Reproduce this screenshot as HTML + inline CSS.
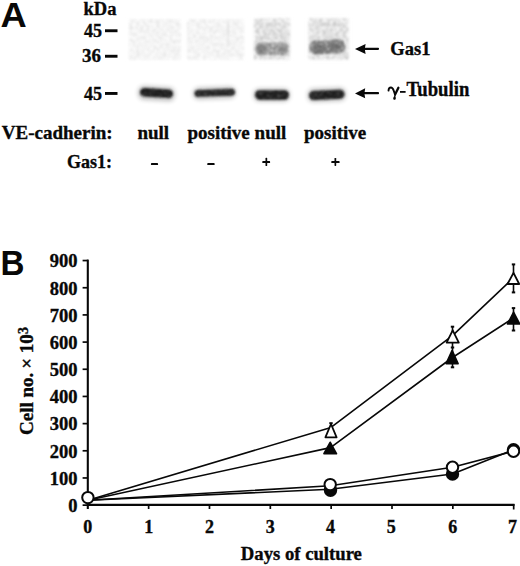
<!DOCTYPE html>
<html><head><meta charset="utf-8">
<style>
html,body{margin:0;padding:0;background:#fff;}
body{width:520px;height:566px;overflow:hidden;}
svg{display:block;}
.s{font-family:"Liberation Serif",serif;font-weight:bold;fill:#080808;stroke:#080808;stroke-width:0.35px;}
.a{font-family:"Liberation Sans",sans-serif;font-weight:bold;fill:#080808;}
</style></head><body>
<svg width="520" height="566" viewBox="0 0 520 566">
<defs>
  <filter id="b1" x="-30%" y="-60%" width="160%" height="220%"><feGaussianBlur stdDeviation="1.25"/></filter>
  <filter id="nz3" x="0" y="0" width="100%" height="100%">
    <feTurbulence type="fractalNoise" baseFrequency="0.4" numOctaves="2" seed="21" result="t"/>
    <feColorMatrix in="t" type="matrix" values="0 0 0 0 0  0 0 0 0 0  0 0 0 0 0  2.5 0 0 0 -1.2" result="m"/>
    <feComposite in="SourceGraphic" in2="m" operator="in" result="c"/>
    <feGaussianBlur in="c" stdDeviation="0.8"/>
  </filter>
  <filter id="b0" x="-200%" y="-20%" width="500%" height="140%"><feGaussianBlur stdDeviation="0.8"/></filter>
  <filter id="b2" x="-30%" y="-60%" width="160%" height="220%"><feGaussianBlur stdDeviation="2.2"/></filter>
  <filter id="b3" x="-30%" y="-60%" width="160%" height="220%"><feGaussianBlur stdDeviation="2"/></filter>
  <filter id="nz" x="-5%" y="-5%" width="110%" height="110%">
    <feTurbulence type="fractalNoise" baseFrequency="0.3" numOctaves="3" seed="7" result="t"/>
    <feColorMatrix in="t" type="matrix" values="0 0 0 0 0  0 0 0 0 0  0 0 0 0 0  2.2 0 0 0 -0.75" result="m"/>
    <feComposite in="SourceGraphic" in2="m" operator="in" result="c"/>
    <feGaussianBlur in="c" stdDeviation="1.1"/>
  </filter>
  <filter id="nz2" x="-20%" y="-30%" width="140%" height="160%">
    <feTurbulence type="fractalNoise" baseFrequency="0.5" numOctaves="2" seed="11" result="t"/>
    <feColorMatrix in="t" type="matrix" values="0 0 0 0 0  0 0 0 0 0  0 0 0 0 0  1.8 0 0 0 -0.3" result="m"/>
    <feComposite in="SourceGraphic" in2="m" operator="in" result="c"/>
    <feGaussianBlur in="c" stdDeviation="1.3"/>
  </filter>
</defs>

<!-- Panel A -->
<text class="a" x="0" y="0" font-size="35.6" transform="translate(0.6,26.6) scale(1.02,1)">A</text>
<text class="s" x="83.5" y="14.6" font-size="18.5">kDa</text>
<text class="s" x="84" y="36.5" font-size="19" textLength="18" lengthAdjust="spacingAndGlyphs">45</text>
<rect x="105" y="29.3" width="12.5" height="2.9" fill="#080808"/>
<text class="s" x="82" y="62" font-size="19" textLength="19" lengthAdjust="spacingAndGlyphs">36</text>
<rect x="105" y="54.8" width="12.5" height="2.9" fill="#080808"/>
<text class="s" x="84" y="99.6" font-size="19" textLength="18" lengthAdjust="spacingAndGlyphs">45</text>
<rect x="105" y="92" width="12.5" height="2.9" fill="#080808"/>

<!-- top blot background lanes -->
<g filter="url(#b3)">
  <rect x="129" y="20" width="52" height="39" fill="#fbfbfb"/>
  <rect x="187" y="20" width="57" height="39" fill="#fbfbfb"/>
  <rect x="255" y="19.5" width="34" height="39" fill="#f2f2f2"/>
  <rect x="309.5" y="19.5" width="38" height="39" fill="#f2f2f2"/>
</g>
<g filter="url(#nz)" opacity="0.8">
  <rect x="129" y="19" width="52" height="41" fill="#e2e2e2"/>
  <rect x="187" y="19" width="57" height="41" fill="#e2e2e2"/>
  <rect x="254" y="18.5" width="36" height="41" fill="#b8b8b8"/>
  <rect x="308.5" y="18.5" width="40" height="41" fill="#b8b8b8"/>
</g>
<rect x="227.5" y="22" width="1.2" height="22" fill="#ddd" filter="url(#b0)"/>
<!-- Gas1 bands -->
<g filter="url(#nz2)">
  <rect x="256" y="42.5" width="32" height="12.5" rx="5" fill="#7a7a7a"/>
  <rect x="309.5" y="40" width="35.5" height="14" rx="6" fill="#626262" transform="rotate(-3 327 47)"/>
</g>
<g filter="url(#b2)" opacity="0.5">
  <ellipse cx="261" cy="49.5" rx="5" ry="4.5" fill="#555"/>
  <ellipse cx="283" cy="49" rx="4.5" ry="3.5" fill="#666"/>
  <ellipse cx="319" cy="48.5" rx="7" ry="4" fill="#444"/>
  <ellipse cx="335" cy="46.5" rx="7" ry="4" fill="#444"/>
</g>
<!-- tubulin bands -->
<g filter="url(#b3)" opacity="0.3">
  <rect x="138" y="86.5" width="37" height="14" rx="6" fill="#333" transform="rotate(3.5 156.5 93.5)"/>
  <rect x="193" y="87" width="43" height="12" rx="6" fill="#333" transform="rotate(-2 214.5 93)"/>
  <rect x="253.5" y="88.5" width="36.5" height="13" rx="6" fill="#333"/>
  <rect x="307.5" y="88" width="38.5" height="13.5" rx="6" fill="#333" transform="rotate(-2.5 326.5 95)"/>
</g>
<g filter="url(#b1)">
  <rect x="140" y="88.8" width="33" height="8.4" rx="4.2" fill="#1c1c1c" transform="rotate(3.5 156.5 93)"/>
  <rect x="194.5" y="89.3" width="40.5" height="7" rx="3.5" fill="#222" transform="rotate(-2 214.5 92.8)"/>
  <rect x="255" y="90.2" width="34" height="9.6" rx="4.8" fill="#1c1c1c"/>
  <rect x="309" y="90.4" width="35.5" height="9" rx="4.5" fill="#1c1c1c" transform="rotate(-2.5 326.5 94.9)"/>
</g>
<g filter="url(#nz3)" opacity="0.35">
  <rect x="138" y="87" width="38" height="13" fill="#fff"/>
  <rect x="193" y="87.5" width="43" height="11" fill="#fff"/>
  <rect x="253" y="88.5" width="37" height="13" fill="#fff"/>
  <rect x="307.5" y="88.5" width="38.5" height="12.5" fill="#fff"/>
</g>

<!-- arrows -->
<g fill="#080808">
  <rect x="363" y="47.7" width="16" height="2.2" rx="0.8"/>
  <polygon points="355,49 365.6,44 364.8,49 365.6,54"/>
  <rect x="363" y="92.1" width="16" height="2.2" rx="0.8"/>
  <polygon points="355,93.4 365.2,88.2 364.4,93.4 365.2,98.2"/>
</g>
<text class="s" x="390.3" y="54.6" font-size="18.5">Gas1</text>
<g fill="none" stroke="#080808" stroke-linecap="round">
  <path d="M388.5,90.6 C388.6,88.6 389.7,87.5 390.9,87.5 C392.3,87.5 393.1,88.9 393.7,90.6 L395.1,94.6" stroke-width="1.85"/>
  <path d="M398.4,87.8 L395.1,94.6" stroke-width="2.3"/>
</g>
<path d="M395.1,94.4 C394.7,95.8 393.2,97 393.2,98.3 C393.2,99.3 393.8,99.8 394.5,99.8 C395.2,99.8 395.8,99.3 395.8,98.3 C395.8,97 395.1,96 395.7,94.6 Z" fill="#080808"/>
<rect x="400" y="91" width="5.6" height="1.8" fill="#080808"/>
<text class="s" x="406.5" y="96.4" font-size="19.9" textLength="62.8" lengthAdjust="spacingAndGlyphs">Tubulin</text>

<text class="s" x="1.8" y="138.8" font-size="19">VE-cadherin:</text>
<text class="s" x="137.4" y="138.8" font-size="19">null</text>
<text class="s" x="187.5" y="138.8" font-size="19">positive</text>
<text class="s" x="254.6" y="138.8" font-size="19">null</text>
<text class="s" x="304" y="138.8" font-size="19">positive</text>
<text class="s" x="66.9" y="167.6" font-size="19" textLength="45" lengthAdjust="spacingAndGlyphs">Gas1:</text>
<g fill="#080808">
  <rect x="150.9" y="163" width="7.2" height="2.1" rx="0.9"/>
  <rect x="207.2" y="163" width="7.5" height="2.1" rx="0.9"/>
  <rect x="262.3" y="161.1" width="7.8" height="1.9" rx="0.6"/>
  <rect x="265.5" y="157.8" width="1.7" height="8.3" rx="0.6"/>
  <rect x="331.3" y="161.1" width="8.3" height="1.9" rx="0.6"/>
  <rect x="334.5" y="158" width="1.7" height="7.9" rx="0.6"/>
</g>

<!-- Panel B -->
<text class="a" x="0" y="0" font-size="35" transform="translate(0.5,274.8) scale(0.95,1)">B</text>

<!-- axes -->
<g stroke="#080808" stroke-width="2.1" fill="none">
  <line x1="87.8" y1="259.6" x2="87.8" y2="509"/>
  <line x1="86.8" y1="504.9" x2="514.5" y2="504.9"/>
</g>
<g stroke="#080808" stroke-width="1.7" fill="none">
  <line x1="82.6" y1="505.14" x2="88" y2="505.14"/>
  <line x1="82.6" y1="477.96" x2="88" y2="477.96"/>
  <line x1="82.6" y1="450.79" x2="88" y2="450.79"/>
  <line x1="82.6" y1="423.62" x2="88" y2="423.62"/>
  <line x1="82.6" y1="396.44" x2="88" y2="396.44"/>
  <line x1="82.6" y1="369.26" x2="88" y2="369.26"/>
  <line x1="82.6" y1="342.09" x2="88" y2="342.09"/>
  <line x1="82.6" y1="314.91" x2="88" y2="314.91"/>
  <line x1="82.6" y1="287.74" x2="88" y2="287.74"/>
  <line x1="82.6" y1="260.56" x2="88" y2="260.56"/>
  <line x1="148.64" y1="505" x2="148.64" y2="509"/>
  <line x1="209.48" y1="505" x2="209.48" y2="509"/>
  <line x1="270.32" y1="505" x2="270.32" y2="509"/>
  <line x1="331.16" y1="505" x2="331.16" y2="509"/>
  <line x1="392.00" y1="505" x2="392.00" y2="509"/>
  <line x1="452.84" y1="505" x2="452.84" y2="509"/>
  <line x1="513.68" y1="504" x2="513.68" y2="509.5"/>
</g>
<g class="s" font-size="18.5" text-anchor="end">
  <text x="77.6" y="484.76">100</text>
  <text x="77.6" y="457.59">200</text>
  <text x="77.6" y="430.42">300</text>
  <text x="77.6" y="403.24">400</text>
  <text x="77.6" y="376.06">500</text>
  <text x="77.6" y="348.89">600</text>
  <text x="77.6" y="321.71">700</text>
  <text x="77.6" y="294.54">800</text>
  <text x="77.6" y="267.37">900</text>
  <text x="77.6" y="511.9">0</text>
</g>
<g class="s" font-size="18" text-anchor="middle">
  <text x="87.80" y="533">0</text>
  <text x="148.64" y="533">1</text>
  <text x="209.48" y="533">2</text>
  <text x="270.32" y="533">3</text>
  <text x="330.46" y="533">4</text>
  <text x="391.3" y="533">5</text>
  <text x="452.84" y="533">6</text>
  <text x="512.4" y="533">7</text>
</g>
<text class="s" x="240.8" y="559.8" font-size="18.7">Days of culture</text>
<text class="s" font-size="19" transform="translate(33,435) rotate(-90)">Cell no. <tspan dx="-0.8">×</tspan> 10<tspan dx="0.3" dy="-5.5" font-size="14">3</tspan></text>

<!-- data lines -->
<g stroke="#080808" stroke-width="1.6" fill="none" stroke-linejoin="round">
  <polyline points="88,500.3 331,427.4 452.5,335.6 513.6,277.8"/>
  <polyline points="88,500.3 330.5,447.6 452.5,357.5 513.6,318"/>
  <polyline points="88,500.3 330.2,485.8 452.5,467.3 513.5,451.2"/>
  <polyline points="88,500.3 330.2,489.2 452.5,474 513.5,449.8"/>
</g>
<!-- error bars -->
<g stroke="#080808" stroke-width="1.6" fill="none">
  <line x1="331" y1="423" x2="331" y2="426"/>
  <line x1="452.5" y1="326.7" x2="452.5" y2="347.5"/>
  <line x1="452.5" y1="348" x2="452.5" y2="367.3"/>
  <line x1="513.5" y1="264.3" x2="513.5" y2="292.2"/>
  <line x1="513.5" y1="308" x2="513.5" y2="330.4"/>
</g>
<g fill="#080808">
  <rect x="329.3" y="422.2" width="3.4" height="1.9"/>
  <rect x="450.8" y="325.7" width="3.4" height="2"/>
  <rect x="450.8" y="346.5" width="3.4" height="2"/>
  <rect x="450.8" y="366.3" width="3.4" height="2"/>
  <rect x="511.8" y="263.4" width="3.4" height="2"/>
  <rect x="511.8" y="291.4" width="3.4" height="2"/>
  <rect x="511.8" y="307.1" width="3.4" height="2"/>
  <rect x="511.8" y="329.5" width="3.4" height="2"/>
</g>
<!-- markers -->
<g stroke="#080808" stroke-width="2">
  <!-- filled circles -->
  <circle cx="330.5" cy="490.3" r="5.7" fill="#080808"/>
  <circle cx="452.5" cy="474" r="5.7" fill="#080808"/>
  <circle cx="513.5" cy="449.8" r="5.7" fill="#080808"/>
  <!-- open circles -->
  <circle cx="87.9" cy="497.6" r="5.7" fill="#fff"/>
  <circle cx="330.2" cy="484.6" r="5.7" fill="#fff"/>
  <circle cx="452.5" cy="467.3" r="5.7" fill="#fff"/>
  <circle cx="513.5" cy="451.2" r="5.7" fill="#fff"/>
</g>
<g stroke="#080808" stroke-width="1.8" stroke-linejoin="round">
  <!-- filled triangles -->
  <polygon points="330.2,442.4 336.4,453.6 324,453.6" fill="#080808"/>
  <polygon points="452.1,350.6 458,363.6 446.2,363.6" fill="#080808"/>
  <polygon points="513.6,312.3 519.6,323.9 507.6,323.9" fill="#080808"/>
  <!-- open triangles -->
  <polygon points="331,424 336.6,437.3 325.4,437.3" fill="#fff"/>
  <polygon points="452.7,330.4 458.8,342.6 446.6,342.6" fill="#fff"/>
  <polygon points="513.5,272.8 519.2,284 507.5,284" fill="#fff"/>
</g>
</svg>
</body></html>
